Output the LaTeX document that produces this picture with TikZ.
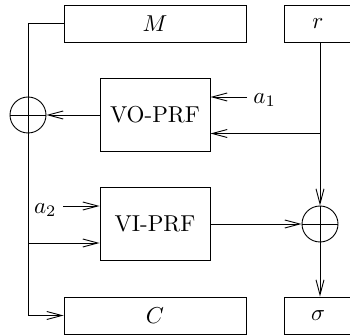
\documentclass[tikz,border=0pt]{standalone}
\usepackage{graphicx}
\usetikzlibrary{arrows.meta}
\newcommand\bt[1]{\scalebox{2.3}{#1}}
\begin{document}
\begin{tikzpicture}[x=1pt,y=-1pt,
  line width=0.9pt,
  every node/.style={font=\fontsize{10}{12}\selectfont},
  box/.style={draw,rectangle,inner sep=0pt},
  xorc/.style={draw,circle,minimum size=36pt,inner sep=0pt},
  arr/.style={-{Straight Barb[length=15pt,width=8pt,line width=0.9pt]}},
  lbl/.style={inner sep=0pt}]
\useasboundingbox (0,0) rectangle (350,336);
% boxes
\node[box,minimum width=182pt,minimum height=37pt] (M) at (155,23.5) {\bt{$M$}};
\node[box,minimum width=68pt,minimum height=37pt] (r) at (318,23.5) {\bt{$r$}};
\node[box,minimum width=110pt,minimum height=73pt] (VO) at (155,115) {\bt{VO-PRF}};
\node[box,minimum width=110pt,minimum height=73pt] (VI) at (155,224) {\bt{VI-PRF}};
\node[box,minimum width=182pt,minimum height=37pt] (C) at (155,315.5) {\bt{$C$}};
\node[box,minimum width=68pt,minimum height=37pt] (s) at (318,315.5) {\bt{$\sigma$}};
% xor circles
\node[xorc] (lx) at (28,115) {};
\node[xorc] (rx) at (320,224) {};
\draw (lx.west) -- (lx.east);
\draw (rx.west) -- (rx.east);
% left trunk
\coordinate (tl) at (28,23.5);
\coordinate (bl) at (28,315.5);
\coordinate (br) at (28,243);
\draw[arr] (M.west) -- (tl) -- (bl) -- (C.west);
\draw[arr] (br) -- (VI.west |- br);
\draw[arr] (VO.west) -- (lx.east);
% a1
\coordinate (a1s) at (247,97);
\draw[arr] (a1s) -- (VO.east |- a1s);
\node[lbl,anchor=west] (a1) at (253,100) {\bt{$a_1$}};
% a2
\coordinate (a2s) at (63,206);
\draw[arr] (a2s) -- (VI.west |- a2s);
\node[lbl,anchor=east] (a2) at (57,210) {\bt{$a_2$}};
% right trunk
\coordinate (rb) at (320,133.5);
\draw[arr] (r.south -| rx) -- (rx.north);
\draw[arr] (rb) -- (VO.east |- rb);
\draw (rx.north) -- (rx.south);
\draw[arr] (rx.south) -- (s.north -| rx);
\draw[arr] (VI.east) -- (rx.west);
\end{tikzpicture}
\end{document}
